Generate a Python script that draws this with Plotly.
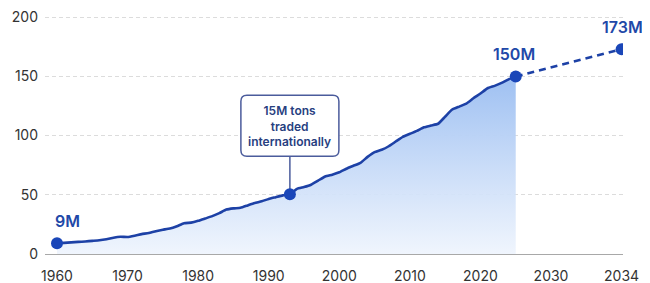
import plotly.graph_objects as go

# ---- data ----
years = list(range(1960, 2026))
tons = [9.0, 9.4, 9.8, 10.2, 10.6, 11.1, 11.6, 12.5, 13.8, 14.6,
        14.4, 15.5, 16.8, 17.8, 19.3, 20.5, 21.5, 23.5, 26.0, 26.5,
        28.0, 30.0, 32.0, 34.5, 37.5, 38.5, 39.0, 41.0, 43.0, 44.5,
        46.5, 48.0, 49.5, 50.5, 55.0, 56.5, 58.5, 62.0, 65.5, 67.0,
        69.0, 72.0, 74.5, 77.0, 82.0, 86.0, 88.0, 91.0, 95.0, 99.0,
        101.5, 104.0, 107.0, 108.5, 110.0, 116.0, 122.0, 124.5, 127.0, 131.5,
        135.5, 140.0, 142.0, 144.5, 147.5, 150.0]
proj_years = [2025, 2034]
proj_tons = [150.0, 173.0]
label_years = [1960, 2025, 2034]
label_tons = [9.0, 150.0, 173.0]
label_text = ["9M", "150M", "173M"]
note_year = 1993
note_text = "15M tons<br>traded<br>internationally"
tick_years = [1960, 1970, 1980, 1990, 2000, 2010, 2020, 2030, 2034]
y_ticks = [0, 50, 100, 150, 200]

def pos(y):
    # axis shows 2034 one tick-step after 2030
    return y if y <= 2030 else 2030 + (y - 2030) * 10 / 4

LINE = "#1d41a6"
DOT = "#1a46b8"
FONT = "Inter, Roboto, Arial, sans-serif"

xs = [pos(y) for y in years]
note_val = tons[years.index(note_year)]

fig = go.Figure()
fig.add_trace(go.Scatter(
    x=xs, y=tons, mode="none", fill="tozeroy",
    fillgradient=dict(type="vertical", start=0, stop=150,
                      colorscale=[[0, "rgba(238,244,253,0.9)"], [1, "#9ec0f2"]]),
    hoverinfo="skip", showlegend=False))
fig.add_trace(go.Scatter(
    x=xs, y=tons, mode="lines",
    line=dict(color=LINE, width=2.6, shape="spline", smoothing=0.4),
    showlegend=False))
fig.add_trace(go.Scatter(
    x=[pos(y) for y in proj_years], y=proj_tons, mode="lines",
    line=dict(color=LINE, width=2.6, dash="7px,5px"), showlegend=False))
fig.add_trace(go.Scatter(
    x=[pos(y) for y in label_years] + [pos(note_year)],
    y=label_tons + [note_val], mode="markers",
    marker=dict(color=DOT, size=12), showlegend=False))

shifts = {"9M": 10, "150M": -2, "173M": 1}
for yr, v, t in zip(label_years, label_tons, label_text):
    fig.add_annotation(x=pos(yr), y=v, text=t, showarrow=False,
                       xshift=shifts[t], yshift=22,
                       font=dict(family=FONT, size=16, color="#2148a8", weight=600))

# callout box with rounded corners anchored at the noted point
r = 6
x0, x1, y0, y1 = -49, 49, 38, 99
path = (f"M {x0+r},{y0} L {x1-r},{y0} Q {x1},{y0} {x1},{y0+r} "
        f"L {x1},{y1-r} Q {x1},{y1} {x1-r},{y1} L {x0+r},{y1} "
        f"Q {x0},{y1} {x0},{y1-r} L {x0},{y0+r} Q {x0},{y0} {x0+r},{y0} Z")
fig.add_shape(type="path", xref="x", yref="y", xsizemode="pixel", ysizemode="pixel",
              xanchor=pos(note_year), yanchor=note_val, path=path,
              line=dict(color="#4b5c9c", width=1.5), fillcolor="white", layer="above")
fig.add_shape(type="line", xref="x", yref="y", xsizemode="pixel", ysizemode="pixel",
              xanchor=pos(note_year), yanchor=note_val, x0=0, x1=0, y0=0, y1=38,
              line=dict(color="#4b5c9c", width=1.5), layer="below")
fig.add_annotation(x=pos(note_year), y=note_val, text=note_text, showarrow=False,
                   yshift=68.5, align="center",
                   font=dict(family=FONT, size=12, color="#27407f", weight=600))

# the page body adds an 8px offset; margins compensate for it
fig.update_layout(
    width=650, height=283,
    margin=dict(l=37, r=35, t=7.8, b=36.5),
    paper_bgcolor="white", plot_bgcolor="white",
    font=dict(family=FONT, size=14, color="#333333"),
    xaxis=dict(range=[1958.3, 2040.2], tickvals=[pos(y) for y in tick_years],
               ticktext=[str(y) for y in tick_years], showgrid=False,
               zeroline=False, showline=False, ticks="", ticklabelstandoff=12,
               automargin=False, fixedrange=True),
    yaxis=dict(range=[0, 201], tickvals=y_ticks, showgrid=True,
               gridcolor="#dcdcdc", griddash="4px,3px", gridwidth=1,
               zeroline=True, zerolinecolor="#a8a8a8", zerolinewidth=1.2,
               ticks="", ticklabelstandoff=6, ticklabeloverflow="allow",
               automargin=False, fixedrange=True),
)
fig.write_html("out.html")
